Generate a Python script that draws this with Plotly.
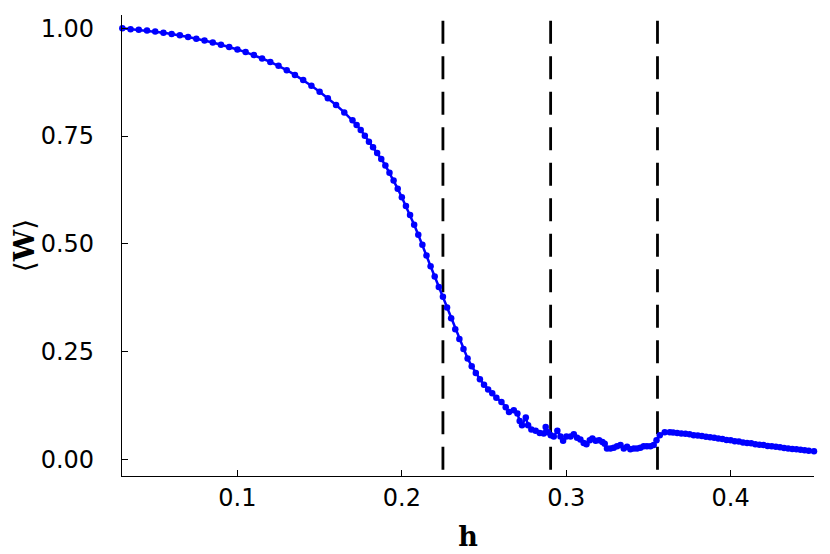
import plotly.graph_objects as go

# h values
h = [0.030, 0.035, 0.040, 0.045, 0.050, 0.055, 0.060, 0.065, 0.070, 0.075,
     0.080, 0.085, 0.090, 0.095, 0.100, 0.105, 0.110, 0.115, 0.120, 0.125,
     0.130, 0.135, 0.140, 0.145, 0.150, 0.155, 0.160, 0.165, 0.170,
     0.1725, 0.175, 0.1775, 0.180, 0.1825, 0.185, 0.1875, 0.190, 0.1925, 0.195,
     0.1975, 0.200, 0.2025, 0.205, 0.2075, 0.210, 0.2125, 0.215, 0.2175, 0.220,
     0.2225, 0.225, 0.2275, 0.230, 0.2325, 0.235, 0.2375, 0.240, 0.2425, 0.245,
     0.2475, 0.250, 0.2525, 0.255, 0.2575, 0.2606, 0.2632, 0.2652, 0.2681, 0.2703,
     0.2717, 0.2731, 0.2754, 0.2768, 0.2788, 0.2814, 0.2839, 0.2863, 0.2875, 0.2889,
     0.2906, 0.2924, 0.2946, 0.2965, 0.2981, 0.3001, 0.3026, 0.3046, 0.3066, 0.3086,
     0.3106, 0.3123, 0.3143, 0.3159, 0.3179, 0.3200, 0.3220, 0.3234, 0.3248, 0.3269,
     0.3289, 0.3309, 0.3330, 0.3350, 0.3370, 0.3390, 0.3411, 0.3431, 0.3451, 0.3471,
     0.3491, 0.3512, 0.3532, 0.3549, 0.3569, 0.3599, 0.3630, 0.3650,
     0.3675, 0.370, 0.3725, 0.375, 0.3775, 0.380, 0.3825, 0.385, 0.3875, 0.390,
     0.3925, 0.395, 0.3975, 0.400, 0.4025, 0.405, 0.4075, 0.410, 0.4125, 0.415,
     0.4175, 0.420, 0.4225, 0.425, 0.4275, 0.430, 0.4325, 0.435, 0.4375, 0.440,
     0.4425, 0.445, 0.4475, 0.4507]

# <W> values
W = [1.000, 0.998, 0.997, 0.995, 0.993, 0.990, 0.987, 0.984, 0.980, 0.976,
     0.972, 0.967, 0.962, 0.957, 0.951, 0.945, 0.938, 0.930, 0.922, 0.913,
     0.903, 0.892, 0.880, 0.867, 0.853, 0.838, 0.822, 0.805, 0.787,
     0.776, 0.764, 0.751, 0.737, 0.724, 0.711, 0.697, 0.682, 0.665, 0.647,
     0.628, 0.608, 0.588, 0.567, 0.544, 0.521, 0.498, 0.473, 0.448, 0.424,
     0.400, 0.377, 0.352, 0.327, 0.302, 0.279, 0.256, 0.234, 0.216, 0.200,
     0.186, 0.173, 0.162, 0.153, 0.143, 0.133, 0.121, 0.110, 0.114, 0.106,
     0.089, 0.079, 0.097, 0.079, 0.069, 0.066, 0.061, 0.060, 0.075, 0.063,
     0.056, 0.053, 0.066, 0.053, 0.043, 0.053, 0.053, 0.058, 0.050, 0.046,
     0.038, 0.035, 0.044, 0.048, 0.043, 0.044, 0.040, 0.036, 0.025, 0.025,
     0.027, 0.030, 0.033, 0.025, 0.029, 0.023, 0.025, 0.025, 0.027, 0.030,
     0.030, 0.030, 0.033, 0.044, 0.056, 0.063, 0.063, 0.062,
     0.061, 0.060, 0.059, 0.058, 0.056, 0.055, 0.054, 0.052, 0.051, 0.050,
     0.048, 0.047, 0.045, 0.044, 0.042, 0.041, 0.039, 0.038, 0.037, 0.035,
     0.034, 0.033, 0.031, 0.030, 0.029, 0.028, 0.026, 0.025, 0.024, 0.023,
     0.022, 0.021, 0.020, 0.0186]

vlines = [0.225, 0.2905, 0.3555]
x_ticks = [0.1, 0.2, 0.3, 0.4]
x_tick_labels = ["0.1", "0.2", "0.3", "0.4"]
y_ticks = [0.0, 0.25, 0.5, 0.75, 1.0]
y_tick_labels = ["0.00", "0.25", "0.50", "0.75", "1.00"]

x_range = [0.0298, 0.4507]
y_range = [-0.0388, 1.031]

fig = go.Figure()
fig.add_trace(go.Scatter(
    x=h, y=W, mode="lines+markers",
    line=dict(color="#0000ff", width=2.5),
    marker=dict(color="#0000ff", size=6.5),
    showlegend=False, cliponaxis=False,
))

for xv in vlines:
    fig.add_shape(type="line", xref="x", yref="y",
                  x0=xv, x1=xv, y0=1.0176, y1=y_range[0],
                  line=dict(color="black", width=2.8, dash="23px,12.5px"),
                  layer="below")

fig.update_layout(
    width=822, height=546,
    margin=dict(l=114, r=16, t=7, b=78, autoexpand=False),
    paper_bgcolor="white", plot_bgcolor="white",
    font=dict(family="DejaVu Sans", color="black", size=24),
    xaxis=dict(
        range=x_range, tickvals=x_ticks, ticktext=x_tick_labels,
        ticks="inside", ticklen=6, tickwidth=1, tickcolor="black",
        showline=True, linecolor="black", linewidth=1.2, mirror=False,
        showgrid=False, zeroline=False, automargin=False,
        tickfont=dict(family="DejaVu Sans", size=24),
        ticklabelstandoff=0,
        title=dict(text="<b>h</b>", font=dict(family="DejaVu Serif", size=27), standoff=16),
    ),
    yaxis=dict(
        range=y_range, tickvals=y_ticks, ticktext=y_tick_labels,
        ticks="inside", ticklen=6, tickwidth=1, tickcolor="black",
        showline=True, linecolor="black", linewidth=1.2, mirror=False,
        showgrid=False, zeroline=False, automargin=False,
        tickfont=dict(family="DejaVu Sans", size=24),
        ticklabelstandoff=22,
        title=dict(text="⟨<b>W</b>⟩", font=dict(family="DejaVu Serif", size=28), standoff=4),
    ),
)

fig.write_html("out.html")
